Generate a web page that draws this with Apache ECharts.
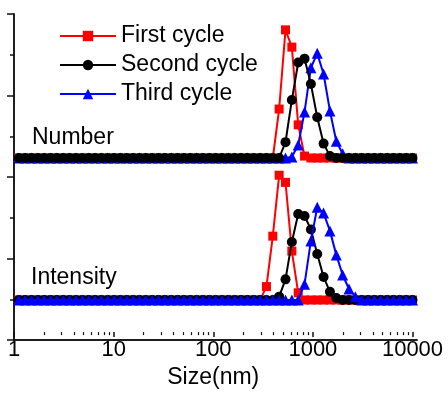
<!DOCTYPE html>
<html>
<head>
<meta charset="utf-8">
<script src="https://cdn.jsdelivr.net/npm/echarts@6/dist/echarts.min.js"></script>
<style>
  html, body { margin: 0; padding: 0; background: #fff; }
  #chart { width: 448px; height: 394px; }
</style>
</head>
<body>
<div id="chart"></div>
<script>
// size bins (nm)
var sizes = [1.117, 1.294, 1.499, 1.736, 2.01, 2.328, 2.696, 3.122, 3.615, 4.187,
  4.849, 5.615, 6.503, 7.531, 8.721, 10.1, 11.7, 13.54, 15.69, 18.17,
  21.04, 24.36, 28.21, 32.67, 37.84, 43.82, 50.75, 58.77, 68.06, 78.82,
  91.28, 105.7, 122.4, 141.8, 164.2, 190.1, 220.2, 255, 295.3, 342,
  396.1, 458.7, 531.2, 615.1, 712.4, 825, 955.4, 1106, 1281, 1484,
  1718, 1990, 2305, 2669, 3091, 3580, 4145, 4801, 5560, 6439,
  7456, 8635, 10000];

var seriesNames = ['First cycle', 'Second cycle', 'Third cycle'];
var xTicks = ['1', '10', '100', '1000', '10000'];

// Number distribution
var numFirst = [0,0,0,0,0,0,0,0,0,0, 0,0,0,0,0,0,0,0,0,0, 0,0,0,0,0,0,0,0,0,0, 0,0,0,0,0,0,0,0,0,
  0, 0, 10.2, 26.7, 23.1, 6.9, 0.4, 0, 0, 0, 0, 0, 0, 0, 0, 0, 0, 0, 0, 0, 0, 0, 0, 0];
var numSecond = [0,0,0,0,0,0,0,0,0,0, 0,0,0,0,0,0,0,0,0,0, 0,0,0,0,0,0,0,0,0,0, 0,0,0,0,0,0,0,0,0,
  0, 0, 0, 3.3, 12.1, 19.9, 20.7, 15.4, 8.5, 3.0, 0.4, 0, 0, 0, 0, 0, 0, 0, 0, 0, 0, 0, 0, 0];
var numThird = [0,0,0,0,0,0,0,0,0,0, 0,0,0,0,0,0,0,0,0,0, 0,0,0,0,0,0,0,0,0,0, 0,0,0,0,0,0,0,0,0,
  0, 0, 0, 0, 0.2, 2.7, 9.6, 18.8, 21.8, 17.5, 9.8, 3.5, 0.9, 0, 0, 0, 0, 0, 0, 0, 0, 0, 0, 0];

// Intensity distribution
var intFirst = [0,0,0,0,0,0,0,0,0,0, 0,0,0,0,0,0,0,0,0,0, 0,0,0,0,0,0,0,0,0,0, 0,0,0,0,0,0,0,0,0,
  2.8, 13.3, 26.0, 24.5, 10.2, 1.5, 0, 0, 0, 0, 0, 0, 0, 0, 0, 0, 0, 0, 0, 0, 0, 0, 0, 0];
var intSecond = [0,0,0,0,0,0,0,0,0,0, 0,0,0,0,0,0,0,0,0,0, 0,0,0,0,0,0,0,0,0,0, 0,0,0,0,0,0,0,0,0,
  0, 0, 0.7, 4.3, 12.1, 17.9, 17.5, 14.7, 9.6, 4.8, 1.7, 0.4, 0, 0, 0, 0, 0, 0, 0, 0, 0, 0, 0, 0];
var intThird = [0,0,0,0,0,0,0,0,0,0, 0,0,0,0,0,0,0,0,0,0, 0,0,0,0,0,0,0,0,0,0, 0,0,0,0,0,0,0,0,0,
  0, 0, 0, 0, 0, 0, 3.3, 12.3, 19.3, 18.1, 14.4, 9.4, 5.2, 2.3, 0.7, 0, 0, 0, 0, 0, 0, 0, 0, 0];

var FONT = 'Liberation Sans, Arial, sans-serif';
var colors = ['#ff0000', '#000000', '#0000ff'];
var symbols = ['rect', 'circle', 'triangle'];
var symbolSizes = [9, 10, 11];

function pairs(vals) {
  return sizes.map(function (s, i) { return [s, vals[i]]; });
}

function makeSeries(name, k, vals, axisIdx, z) {
  return {
    name: name,
    type: 'line',
    xAxisIndex: axisIdx,
    yAxisIndex: axisIdx,
    data: pairs(vals),
    symbol: symbols[k],
    symbolSize: symbolSizes[k],
    clip: false,
    z: z,
    itemStyle: { color: colors[k] },
    lineStyle: { color: colors[k], width: 2 },
    emphasis: { disabled: true },
    animation: false
  };
}

var hiddenLog = function (g) {
  return { type: 'log', logBase: 10, gridIndex: g, min: 1, max: 10000, show: false };
};
var hiddenVal = function (g) {
  return { type: 'value', gridIndex: g, min: 0, max: 30, show: false };
};

var axisLineStyle = { color: '#111', width: 1.5 };

var chart = echarts.init(document.getElementById('chart'));
var option = {
  backgroundColor: '#fff',
  animation: false,
  textStyle: { fontFamily: FONT },
  legend: {
    data: seriesNames,
    orient: 'vertical',
    left: 59,
    top: 24,
    padding: 0,
    itemWidth: 56,
    itemHeight: 13,
    itemGap: 5,
    selectedMode: false,
    textStyle: { fontSize: 23, color: '#000', fontFamily: FONT, lineHeight: 24 }
  },
  grid: [
    { left: 14, top: 14, width: 403, height: 326 },   // frame
    { left: 14, top: 14, width: 398.5, height: 326 }, // size ticks
    { left: 14, top: 14, width: 398.5, height: 144 }, // Number
    { left: 14, top: 156, width: 398.5, height: 144 } // Intensity
  ],
  xAxis: [
    { type: 'value', gridIndex: 0, min: 0, max: 1, position: 'bottom',
      axisLine: { show: true, lineStyle: axisLineStyle }, axisTick: { show: false },
      axisLabel: { show: false }, splitLine: { show: false } },
    { type: 'value', gridIndex: 0, min: 0, max: 1, position: 'top',
      axisLine: { show: true, lineStyle: axisLineStyle }, axisTick: { show: false },
      axisLabel: { show: false }, splitLine: { show: false } },
    { type: 'log', logBase: 10, gridIndex: 1, min: 1, max: 10000, position: 'bottom',
      axisLine: { show: false },
      axisTick: { show: true, inside: false, length: 5, lineStyle: axisLineStyle },
      minorTick: { show: true, splitNumber: 9, length: 3, lineStyle: { color: '#111', width: 1.2 } },
      axisLabel: { show: true, fontSize: 22, color: '#000', margin: 7, fontFamily: FONT,
        formatter: function (v) { var s = String(Math.round(v)); return xTicks.indexOf(s) >= 0 ? s : ''; } },
      splitLine: { show: false },
      name: 'Size(nm)', nameLocation: 'middle', nameGap: 28,
      nameTextStyle: { fontSize: 23, color: '#000', fontFamily: FONT } },
    hiddenLog(2),
    hiddenLog(3)
  ],
  yAxis: [
    { type: 'value', gridIndex: 0, min: 0, max: 8, interval: 2, position: 'left',
      axisLine: { show: true, lineStyle: axisLineStyle },
      axisTick: { show: true, inside: false, length: 7, lineStyle: axisLineStyle },
      minorTick: { show: true, splitNumber: 2, length: 4, lineStyle: { color: '#111', width: 1.5 } },
      axisLabel: { show: false }, splitLine: { show: false } },
    { type: 'value', gridIndex: 0, min: 0, max: 8, position: 'right',
      axisLine: { show: true, lineStyle: axisLineStyle }, axisTick: { show: false },
      axisLabel: { show: false }, splitLine: { show: false } },
    { type: 'value', gridIndex: 1, show: false },
    hiddenVal(2),
    hiddenVal(3)
  ],
  graphic: [
    { type: 'text', left: 32, top: 126, silent: true,
      style: { text: 'Number', font: '23px ' + FONT, fill: '#000' } },
    { type: 'text', left: 31, top: 266, silent: true,
      style: { text: 'Intensity', font: '23px ' + FONT, fill: '#000' } }
  ],
  series: [
    makeSeries(seriesNames[0], 0, numFirst, 3, 2),
    makeSeries(seriesNames[2], 2, numThird, 3, 3),
    makeSeries(seriesNames[1], 1, numSecond, 3, 4),
    makeSeries(seriesNames[0], 0, intFirst, 4, 2),
    makeSeries(seriesNames[1], 1, intSecond, 4, 3),
    makeSeries(seriesNames[2], 2, intThird, 4, 4)
  ]
};
chart.setOption(option);
</script>
</body>
</html>
